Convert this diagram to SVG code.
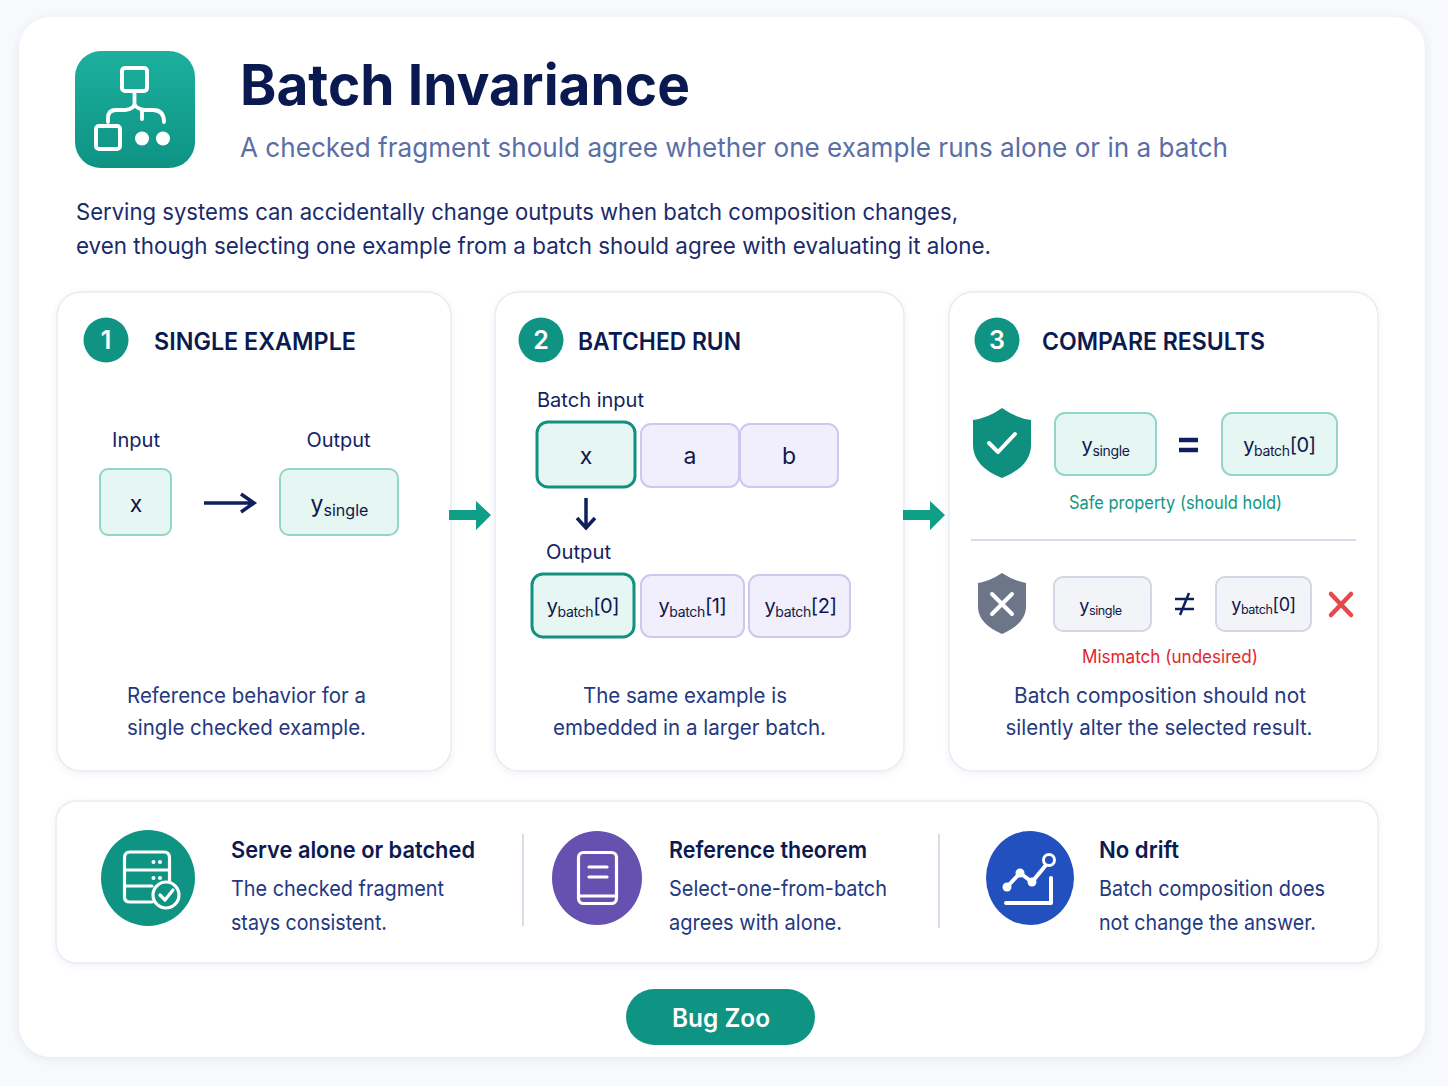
<svg xmlns="http://www.w3.org/2000/svg" width="1448" height="1086" viewBox="0 0 1448 1086">
<style>
text{font-family:Inter,"Noto Sans","Liberation Sans",sans-serif;fill:#14235f}
.card{fill:#fff;stroke:#e8ebf3;stroke-width:1.5}
.h{font-size:24px;font-weight:600;fill:#0b1a50}
.num{font-size:25px;font-weight:600;fill:#fff;text-anchor:middle}
.body{font-size:21px;fill:#24397f;text-anchor:middle}
.lab{font-size:20px;fill:#14235f;text-anchor:middle}
.val{font-size:23px;fill:#10184a;text-anchor:middle}
.val2{font-size:20px;fill:#10184a;text-anchor:middle;letter-spacing:-.35px}
.val3{font-size:18px;fill:#10184a;text-anchor:middle;letter-spacing:-.4px}
.sub{font-size:.7em}
.teal{fill:#e6f6f2;stroke:#93d5c8;stroke-width:2}
.tealS{fill:#e6f6f2;stroke:#13917f;stroke-width:3}
.pur{fill:#f1effb;stroke:#cdc8ef;stroke-width:2}
.gry{fill:#f3f4f8;stroke:#d3d7e3;stroke-width:2}
.ft{font-size:23px;font-weight:600;fill:#0b1a50}
.fb{font-size:22px;fill:#24397f}
.ic{fill:none;stroke:#fff;stroke-width:4;stroke-linecap:round;stroke-linejoin:round}
.ic2{fill:none;stroke:#fff;stroke-width:3.2;stroke-linecap:round;stroke-linejoin:round}
</style>
<defs>
<linearGradient id="tg" x1="0" y1="0" x2="0" y2="1"><stop offset="0" stop-color="#1cb09e"/><stop offset="1" stop-color="#0e9383"/></linearGradient>
<filter id="sh" x="-5%" y="-5%" width="110%" height="110%"><feDropShadow dx="0" dy="2" stdDeviation="4" flood-color="#4a5a8a" flood-opacity=".12"/></filter>
<filter id="sh2" x="-5%" y="-5%" width="110%" height="115%"><feDropShadow dx="0" dy="2" stdDeviation="3" flood-color="#4a5a8a" flood-opacity=".08"/></filter>
</defs>
<rect width="1448" height="1086" fill="#f8f9fc"/>
<rect x="19" y="17" width="1406" height="1040" rx="32" fill="#fff" filter="url(#sh)"/>

<g id="header">
<rect x="75" y="51" width="120" height="117" rx="26" fill="url(#tg)"/>
<g class="ic">
<rect x="122" y="68" width="25" height="23" rx="3"/>
<path d="M134.500 91V104Q134 109 125 110H116Q108 110 108 118V122M134.500 104Q136 109 145 110H153Q164 110 164 122M142 110V119" stroke-width="3.800"/>
<rect x="96" y="126" width="24" height="23" rx="3"/>
</g>
<circle cx="142" cy="138.500" r="7" fill="#fff"/><circle cx="163" cy="138.500" r="7" fill="#fff"/>
<text x="240" y="105" font-size="56" font-weight="700" style="fill:#0a1a50" textLength="450" lengthAdjust="spacingAndGlyphs">Batch Invariance</text>
<text x="240" y="157" font-size="27" style="fill:#5a6fa5" textLength="988" lengthAdjust="spacingAndGlyphs">A checked fragment should agree whether one example runs alone or in a batch</text>
<text x="76" y="220" font-size="23" style="fill:#1a2b6b" textLength="882" lengthAdjust="spacingAndGlyphs">Serving systems can accidentally change outputs when batch composition changes,</text>
<text x="76" y="254" font-size="23" style="fill:#1a2b6b" textLength="915" lengthAdjust="spacingAndGlyphs">even though selecting one example from a batch should agree with evaluating it alone.</text>
</g>

<g id="card1">
<rect class="card" x="57" y="292" width="394" height="479" rx="24" filter="url(#sh2)"/>
<circle cx="106" cy="340" r="22.500" fill="#0f9484"/><text class="num" x="106" y="349">1</text>
<text class="h" x="154" y="350" textLength="202" lengthAdjust="spacingAndGlyphs">SINGLE EXAMPLE</text>
<text class="lab" x="136" y="447" textLength="48" lengthAdjust="spacingAndGlyphs">Input</text>
<text class="lab" x="338.500" y="447" textLength="64" lengthAdjust="spacingAndGlyphs">Output</text>
<rect class="teal" x="100" y="469" width="71" height="66" rx="8"/>
<text class="val" x="136" y="512">x</text>
<rect class="teal" x="280" y="469" width="118" height="66" rx="9"/>
<text class="val" x="339.500" y="512">y<tspan class="sub" dy="4">single</tspan></text>
<text class="body" x="246.500" y="703" textLength="239" lengthAdjust="spacingAndGlyphs">Reference behavior for a</text>
<text class="body" x="246.500" y="735" textLength="239" lengthAdjust="spacingAndGlyphs">single checked example.</text>
</g>

<g id="card2">
<rect class="card" x="495" y="292" width="409" height="479" rx="24" filter="url(#sh2)"/>
<circle cx="541" cy="340" r="22.500" fill="#0f9484"/><text class="num" x="541" y="349">2</text>
<text class="h" x="578" y="350" textLength="163" lengthAdjust="spacingAndGlyphs">BATCHED RUN</text>
<text class="lab" x="590.500" y="407" textLength="107" lengthAdjust="spacingAndGlyphs">Batch input</text>
<rect class="tealS" x="537" y="422" width="98" height="65" rx="11"/>
<rect class="pur" x="641" y="424" width="98" height="63" rx="10"/>
<rect class="pur" x="740" y="424" width="98" height="63" rx="10"/>
<text class="val" x="586" y="464">x</text><text class="val" x="690" y="464">a</text><text class="val" x="789" y="464">b</text>
<text class="lab" x="578.500" y="559" textLength="65" lengthAdjust="spacingAndGlyphs">Output</text>
<rect class="tealS" x="532" y="574" width="102" height="63" rx="11"/>
<rect class="pur" x="641" y="575" width="103" height="62" rx="10"/>
<rect class="pur" x="749" y="575" width="101" height="62" rx="10"/>
<text class="val2" x="583" y="613">y<tspan class="sub" dy="4">batch</tspan><tspan dy="-4">[0]</tspan></text>
<text class="val2" x="692.500" y="613">y<tspan class="sub" dy="4">batch</tspan><tspan dy="-4">[1]</tspan></text>
<text class="val2" x="800.500" y="613">y<tspan class="sub" dy="4">batch</tspan><tspan dy="-4">[2]</tspan></text>
<text class="body" x="685" y="703" textLength="204" lengthAdjust="spacingAndGlyphs">The same example is</text>
<text class="body" x="689.500" y="735" textLength="273" lengthAdjust="spacingAndGlyphs">embedded in a larger batch.</text>
</g>

<g id="card3">
<rect class="card" x="949" y="292" width="429" height="479" rx="24" filter="url(#sh2)"/>
<circle cx="997" cy="340" r="22.500" fill="#0f9484"/><text class="num" x="997" y="349">3</text>
<text class="h" x="1042" y="350" textLength="223" lengthAdjust="spacingAndGlyphs">COMPARE RESULTS</text>
<path d="M1002 408Q1016 418 1031 420V446Q1030 467 1002 478Q974 467 973 446V420Q988 418 1002 408Z" fill="#0f8f7e"/>
<path class="ic" d="M989 443L998 452L1015 434" stroke-width="5"/>
<rect class="teal" x="1055" y="413" width="101" height="62" rx="10"/>
<text class="val2" x="1105.500" y="452">y<tspan class="sub" dy="4">single</tspan></text>
<path d="M1179 440H1198M1179 450H1198" stroke="#10205e" stroke-width="4.500" fill="none"/>
<rect class="teal" x="1222" y="413" width="115" height="62" rx="10"/>
<text class="val2" x="1279.500" y="452">y<tspan class="sub" dy="4">batch</tspan><tspan dy="-4">[0]</tspan></text>
<text x="1175.500" y="509" font-size="18" text-anchor="middle" style="fill:#12977f" textLength="213" lengthAdjust="spacingAndGlyphs">Safe property (should hold)</text>
<line x1="971" y1="540" x2="1356" y2="540" stroke="#c9cfe2" stroke-width="1.500"/>
<path d="M1002 573Q1014 581 1026 583V608Q1025 624 1002 634Q979 624 978 608V583Q990 581 1002 573Z" fill="#6c7688"/>
<path class="ic" d="M992 594L1012 614M1012 594L992 614" stroke-width="5"/>
<rect class="gry" x="1054" y="577" width="97" height="54" rx="9"/>
<text class="val3" x="1100.500" y="612">y<tspan class="sub" dy="3">single</tspan></text>
<path d="M1175 599H1194M1175 609H1194M1189 593L1180 615" stroke="#10205e" stroke-width="2.500" fill="none"/>
<rect class="gry" x="1216" y="577" width="95" height="54" rx="9"/>
<text class="val3" x="1263.500" y="611">y<tspan class="sub" dy="3">batch</tspan><tspan dy="-3">[0]</tspan></text>
<path d="M1331 594L1351 615M1351 594L1331 615" stroke="#e5484d" stroke-width="4.500" fill="none" stroke-linecap="round"/>
<text x="1170" y="663" font-size="18" text-anchor="middle" style="fill:#e2262f" textLength="176" lengthAdjust="spacingAndGlyphs">Mismatch (undesired)</text>
<text class="body" x="1160" y="703" textLength="292" lengthAdjust="spacingAndGlyphs">Batch composition should not</text>
<text class="body" x="1159" y="735" textLength="307" lengthAdjust="spacingAndGlyphs">silently alter the selected result.</text>
</g>

<g id="connectors">
<path d="M204 503H252M241 494L254 503L241 512" fill="none" stroke="#10205e" stroke-width="3.500"/>
<path d="M586 498V527M577 518L586 528L595 518" fill="none" stroke="#10205e" stroke-width="3.500"/>
<path d="M449 510H476V501L491 515L476 530V520H449Z" fill="#0f9e86"/>
<path d="M903 510H930V501L945 515L930 530V520H903Z" fill="#0f9e86"/>
</g>

<g id="footer">
<rect class="card" x="56" y="801" width="1322" height="162" rx="20" filter="url(#sh2)"/>
<line x1="523" y1="834" x2="523" y2="926" stroke="#ccd2e2" stroke-width="1.500"/>
<line x1="939" y1="834" x2="939" y2="928" stroke="#ccd2e2" stroke-width="1.500"/>
<g id="benefit1">
<ellipse cx="148" cy="878" rx="47" ry="48" fill="#0f9484"/>
<path class="ic2" d="M152 902H130Q124.500 902 124.500 897V858Q124.500 852 130 852H164Q169.500 852 169.500 858V884M124.500 870H169.500M124.500 886H152"/>
<circle cx="166" cy="895" r="13" fill="#0f9484" stroke="#fff" stroke-width="3.200"/>
<path class="ic2" d="M160 895L165 900L173 890"/>
<circle cx="153.500" cy="862" r="2" fill="#fff"/><circle cx="160" cy="862" r="2" fill="#fff"/><circle cx="153.500" cy="878" r="2" fill="#fff"/><circle cx="160" cy="878" r="2" fill="#fff"/>
<text class="ft" x="231" y="858" textLength="244" lengthAdjust="spacingAndGlyphs">Serve alone or batched</text>
<text class="fb" x="231" y="896" textLength="213" lengthAdjust="spacingAndGlyphs">The checked fragment</text>
<text class="fb" x="231" y="930" textLength="156" lengthAdjust="spacingAndGlyphs">stays consistent.</text>
</g>
<g id="benefit2">
<ellipse cx="597" cy="878" rx="45" ry="47" fill="#6650b0"/>
<rect class="ic2" x="578.500" y="852.500" width="38" height="51" rx="5"/>
<path class="ic2" d="M578.500 896H616.500M589 867H607M589 877H607"/>
<text class="ft" x="669" y="858" textLength="198" lengthAdjust="spacingAndGlyphs">Reference theorem</text>
<text class="fb" x="669" y="896" textLength="218" lengthAdjust="spacingAndGlyphs">Select-one-from-batch</text>
<text class="fb" x="669" y="930" textLength="173" lengthAdjust="spacingAndGlyphs">agrees with alone.</text>
</g>
<g id="benefit3">
<ellipse cx="1030" cy="878" rx="44" ry="47" fill="#2350bf"/>
<path class="ic" d="M1007 887L1020 873L1032 882L1046 865" stroke-width="3.500"/>
<circle cx="1007" cy="887" r="4.500" fill="#fff"/><circle cx="1020" cy="873" r="4.500" fill="#fff"/><circle cx="1032" cy="882" r="4.500" fill="#fff"/>
<circle cx="1049" cy="860" r="5.500" fill="#2350bf" stroke="#fff" stroke-width="3"/>
<path class="ic" d="M1006 903H1051V878" stroke-width="3.500"/>
<text class="ft" x="1099" y="858" textLength="80" lengthAdjust="spacingAndGlyphs">No drift</text>
<text class="fb" x="1099" y="896" textLength="226" lengthAdjust="spacingAndGlyphs">Batch composition does</text>
<text class="fb" x="1099" y="930" textLength="217" lengthAdjust="spacingAndGlyphs">not change the answer.</text>
</g>
</g>

<g id="badge">
<rect x="626" y="989" width="189" height="56" rx="28" fill="#0f9484"/>
<text x="721" y="1027" font-size="25" font-weight="600" text-anchor="middle" style="fill:#fff" textLength="98" lengthAdjust="spacingAndGlyphs">Bug Zoo</text>
</g>
</svg>
